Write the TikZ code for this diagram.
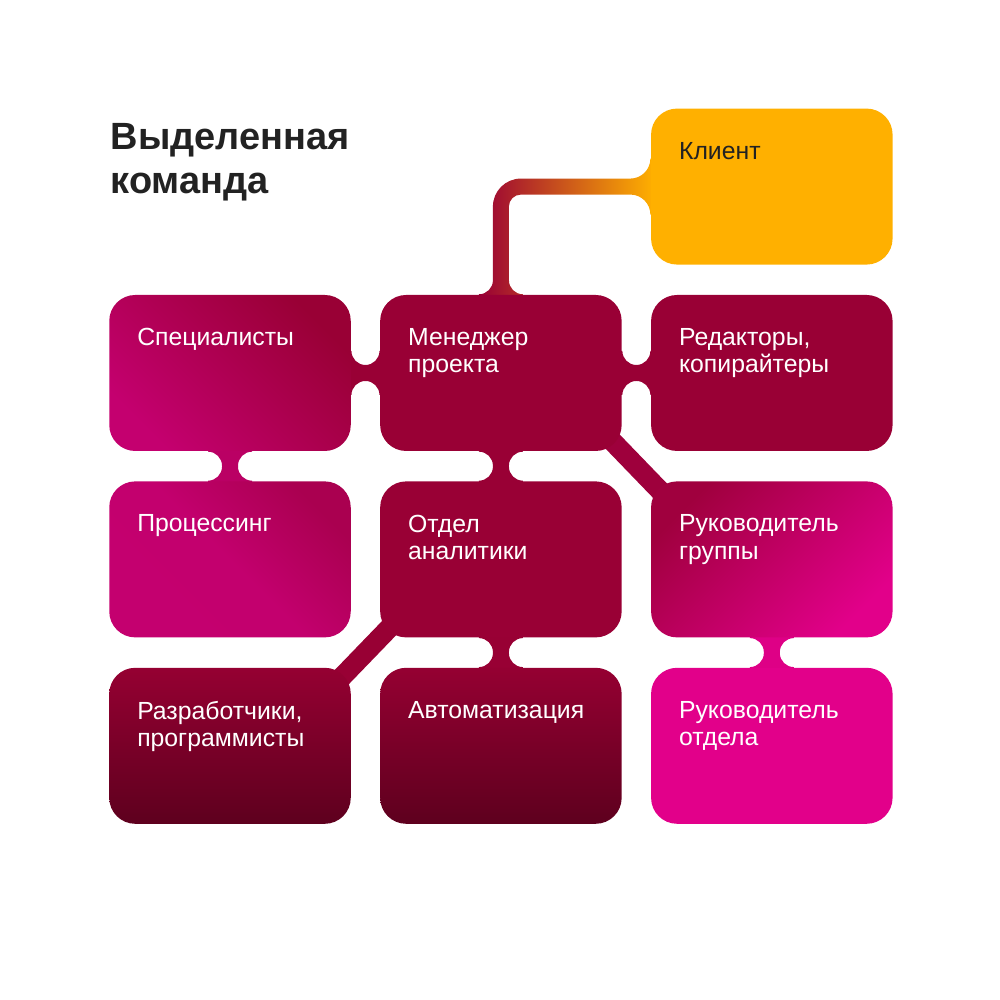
\documentclass[tikz,border=0pt]{standalone}
\usepackage{fontspec}
\setmainfont{Liberation Sans}
\usepackage{tikz}
\usetikzlibrary{positioning, calc, backgrounds}

\definecolor{crimson}{HTML}{990035}
\definecolor{berry}{HTML}{C4006F}
\definecolor{pinkA}{HTML}{E2008A}
\definecolor{wine}{HTML}{5E001E}
\definecolor{wineTop}{HTML}{950032}
\definecolor{amber}{HTML}{FFB000}
\definecolor{ink}{HTML}{222222}
\definecolor{procUR}{HTML}{AA0050}
\definecolor{grpUL}{HTML}{A0003E}
\definecolor{linkSP}{HTML}{BA0064}
\definecolor{linkAA}{HTML}{980034}
\definecolor{linkGH}{HTML}{DE0086}
\definecolor{linkMG}{HTML}{9E003C}

\newcommand{\bandh}{0.08cm}
\newcommand{\filr}{0.14cm}

\tikzset{
  box/.style={rectangle, rounded corners=0.26cm, minimum width=2.415cm,
    minimum height=1.56cm, inner sep=0pt},
  txt/.style={anchor=north west, inner sep=0pt, align=left, text=white,
    font=\fontsize{7.05}{7.75}\selectfont},
  % vertical band, upper box south -> lower box north
  vlink/.style={to path={let \p1=(\tikztostart), \p2=(\tikztotarget) in
    (\x1-\bandh-\filr,\y1+1pt) -- (\x1-\bandh-\filr,\y1)
    arc[start angle=90,end angle=0,radius=\filr] -- (\x1-\bandh,\y2+\filr)
    arc[start angle=0,end angle=-90,radius=\filr] -- (\x1-\bandh-\filr,\y2-1pt)
    -- (\x1+\bandh+\filr,\y2-1pt) -- (\x1+\bandh+\filr,\y2)
    arc[start angle=270,end angle=180,radius=\filr] -- (\x1+\bandh,\y1-\filr)
    arc[start angle=180,end angle=90,radius=\filr] -- (\x1+\bandh+\filr,\y1+1pt)
    -- cycle}},
  % horizontal band, left box east -> right box west
  hlink/.style={to path={let \p1=(\tikztostart), \p2=(\tikztotarget) in
    (\x1-1pt,\y1+\bandh+\filr) -- (\x1,\y1+\bandh+\filr)
    arc[start angle=180,end angle=270,radius=\filr] -- (\x2-\filr,\y1+\bandh)
    arc[start angle=-90,end angle=0,radius=\filr] -- (\x2+1pt,\y1+\bandh+\filr)
    -- (\x2+1pt,\y1-\bandh-\filr) -- (\x2,\y1-\bandh-\filr)
    arc[start angle=0,end angle=90,radius=\filr] -- (\x1+\filr,\y1-\bandh)
    arc[start angle=90,end angle=180,radius=\filr] -- (\x1-1pt,\y1-\bandh-\filr)
    -- cycle}},
  % up from a box, then right into another
  elbow/.style={to path={let \p1=(\tikztostart), \p2=(\tikztotarget) in
    (\x1-\bandh-\filr,\y1-1pt) -- (\x1-\bandh-\filr,\y1)
    arc[start angle=-90,end angle=0,radius=\filr] -- (\x1-\bandh,\y2+\bandh-0.28cm)
    arc[start angle=180,end angle=90,radius=0.28cm] -- (\x2-0.2cm,\y2+\bandh)
    arc[start angle=-90,end angle=0,radius=0.2cm] -- (\x2+1pt,\y2+\bandh+0.2cm)
    -- (\x2+1pt,\y2-\bandh-0.2cm) -- (\x2,\y2-\bandh-0.2cm)
    arc[start angle=0,end angle=90,radius=0.2cm] -- (\x1+\bandh+0.12cm,\y2-\bandh)
    arc[start angle=90,end angle=180,radius=0.12cm] -- (\x1+\bandh,\y1+\filr)
    arc[start angle=180,end angle=270,radius=\filr] -- (\x1+\bandh+\filr,\y1-1pt)
    -- cycle}},
  dlink/.style={line width=0.2cm, shorten <=-0.35cm, shorten >=-0.35cm},
}

\begin{document}
\begin{tikzpicture}[node distance=0.29cm]
    \useasboundingbox (0,0) rectangle (10,10);

    % Title
    \node[anchor=north west, inner sep=0pt, align=left, text=ink,
      font=\bfseries\fontsize{10.8}{12.5}\selectfont] (title) at (1.1,8.77)
      {Выделенная\\команда};

    % Boxes
    \node[box, top color=crimson, bottom color=berry, shading angle=-45]
      (spec) at (2.3,6.27) {};
    \node[box, fill=crimson, right=0.28cm of spec] (mgr) {};
    \node[box, fill=crimson, right=0.28cm of mgr] (ed) {};
    \node[box, fill=amber, above=of ed] (client) {};

    \node[box, top color=procUR, bottom color=berry, middle color=berry!96!procUR,
      shading angle=-45, below=of spec] (proc) {};
    \node[box, fill=crimson, below=of mgr] (anal) {};
    \node[box, top color=grpUL, bottom color=pinkA, shading angle=45,
      below=of ed] (grp) {};

    \node[box, top color=wineTop, bottom color=wine, below=of proc] (dev) {};
    \node[box, top color=wineTop, bottom color=wine, below=of anal] (auto) {};
    \node[box, fill=pinkA, below=of grp] (head) {};

    % Labels
    \node[txt, text=ink] (client-t) at ([shift={(0.28,-0.335)}]client.north west) {Клиент};
    \node[txt] (spec-t) at ([shift={(0.28,-0.335)}]spec.north west) {Специалисты};
    \node[txt] (mgr-t) at ([shift={(0.28,-0.335)}]mgr.north west) {Менеджер\\проекта};
    \node[txt] (ed-t) at ([shift={(0.28,-0.335)}]ed.north west) {Редакторы,\\копирайтеры};
    \node[txt] (proc-t) at ([shift={(0.28,-0.335)}]proc.north west) {Процессинг};
    \node[txt] (anal-t) at ([shift={(0.28,-0.335)}]anal.north west) {Отдел\\аналитики};
    \node[txt] (grp-t) at ([shift={(0.28,-0.335)}]grp.north west) {Руководитель\\группы};
    \node[txt] (dev-t) at ([shift={(0.28,-0.335)}]dev.north west) {Разработчики,\\программисты};
    \node[txt] (auto-t) at ([shift={(0.28,-0.335)}]auto.north west) {Автоматизация};
    \node[txt] (head-t) at ([shift={(0.28,-0.335)}]head.north west) {Руководитель\\отдела};

    % Links
    \begin{scope}[on background layer]
        \shade[left color=crimson, right color=amber] (mgr.north) to[elbow] (client.west);
        \fill[crimson] (spec.east) to[hlink] (mgr.west);
        \fill[crimson] (mgr.east) to[hlink] (ed.west);
        \fill[linkSP] (spec.south) to[vlink] (proc.north);
        \fill[crimson] (mgr.south) to[vlink] (anal.north);
        \fill[linkAA] (anal.south) to[vlink] (auto.north);
        \fill[linkGH] (grp.south) to[vlink] (head.north);
        \draw[dlink, linkMG] (mgr.south east) -- (grp.north west);
        \draw[dlink, linkAA] (anal.south west) -- (dev.north east);
    \end{scope}
\end{tikzpicture}
\end{document}
